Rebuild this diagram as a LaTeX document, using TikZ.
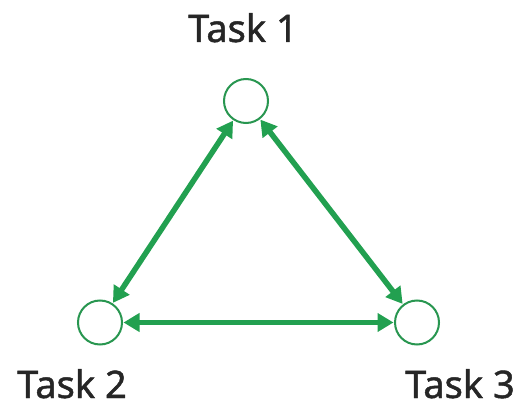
\documentclass[tikz,border=0pt]{standalone}
\usepackage{fontspec}
\setmainfont{Noto Sans}
\usetikzlibrary{arrows.meta}
\definecolor{tgreen}{RGB}{34,160,80}
\definecolor{cgreen}{RGB}{40,150,80}
\tikzset{
  task/.style={circle, draw=cgreen, line width=2pt, minimum size=44pt, inner sep=0pt, fill=white},
  lbl/.style={font=\fontsize{38}{40}\selectfont\addfontfeature{FakeBold=1.2}, anchor=base, text=black!85, inner sep=0pt},
  link/.style={draw=tgreen, line width=5.5pt, {Triangle[length=16pt,width=18pt]}-{Triangle[length=16pt,width=18pt]}, shorten <=0.5pt, shorten >=0.5pt}
}
\begin{document}
\begin{tikzpicture}[x=1pt,y=1pt]
\useasboundingbox (0,0) rectangle (522,410);
\node[task] (t1) at (246,309) {};
\node[task] (t2) at (100,87.5) {};
\node[task] (t3) at (417,87.5) {};
\node[lbl] (l1) at (243,368) {Task 1};
\node[lbl] (l2) at (72,12) {Task 2};
\node[lbl] (l3) at (460,12) {Task 3};
\draw[link] (t1) -- (t2);
\draw[link] (t1) -- (t3);
\draw[link] (t2) -- (t3);
\end{tikzpicture}
\end{document}
